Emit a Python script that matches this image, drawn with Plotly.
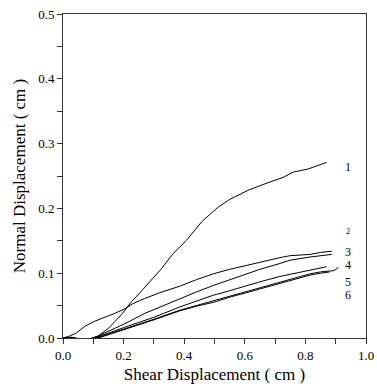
import plotly.graph_objects as go

# Curve data (shear displacement cm, normal displacement cm)
x1 = [0.0, 0.03, 0.06, 0.09, 0.116, 0.15, 0.193, 0.226, 0.26, 0.292, 0.325, 0.363, 0.408, 0.457, 0.512, 0.551, 0.611, 0.667, 0.727, 0.76, 0.81, 0.87]
y1 = [0.0, 0.001, -0.002, -0.001, 0.003, 0.015, 0.036, 0.056, 0.073, 0.089, 0.107, 0.130, 0.151, 0.179, 0.202, 0.214, 0.228, 0.238, 0.248, 0.256, 0.261, 0.271]

x2 = [0.0, 0.022, 0.045, 0.072, 0.105, 0.14, 0.171, 0.204, 0.23, 0.27, 0.32, 0.386, 0.44, 0.496, 0.55, 0.606, 0.65, 0.716, 0.749, 0.815, 0.85, 0.887]
y2 = [0.0, 0.003, 0.008, 0.018, 0.026, 0.032, 0.038, 0.045, 0.053, 0.061, 0.070, 0.080, 0.090, 0.099, 0.106, 0.112, 0.117, 0.124, 0.127, 0.129, 0.132, 0.134]

x3 = [0.0, 0.03, 0.06, 0.09, 0.11, 0.15, 0.204, 0.27, 0.33, 0.386, 0.44, 0.496, 0.55, 0.606, 0.65, 0.716, 0.749, 0.815, 0.85, 0.887]
y3 = [0.0, 0.001, -0.002, -0.001, 0.002, 0.010, 0.022, 0.038, 0.050, 0.061, 0.071, 0.081, 0.090, 0.099, 0.106, 0.115, 0.120, 0.125, 0.127, 0.129]

x4 = [0.0, 0.03, 0.06, 0.09, 0.11, 0.15, 0.2, 0.25, 0.3, 0.386, 0.44, 0.496, 0.55, 0.606, 0.66, 0.716, 0.77, 0.815, 0.87]
y4 = [0.0, 0.0, -0.003, -0.002, 0.001, 0.008, 0.016, 0.024, 0.032, 0.048, 0.057, 0.066, 0.073, 0.081, 0.088, 0.095, 0.100, 0.104, 0.110]

x5 = [0.0, 0.03, 0.06, 0.09, 0.11, 0.15, 0.2, 0.25, 0.3, 0.386, 0.44, 0.496, 0.55, 0.606, 0.66, 0.716, 0.77, 0.815, 0.85, 0.88, 0.895, 0.909]
y5 = [0.0, 0.001, -0.003, -0.002, 0.0, 0.006, 0.014, 0.021, 0.029, 0.043, 0.050, 0.057, 0.064, 0.072, 0.079, 0.086, 0.093, 0.099, 0.102, 0.103, 0.104, 0.109]

x6 = [0.0, 0.03, 0.06, 0.09, 0.11, 0.15, 0.2, 0.25, 0.3, 0.386, 0.44, 0.496, 0.55, 0.606, 0.66, 0.716, 0.77, 0.815, 0.85, 0.88]
y6 = [0.0, 0.0, -0.004, -0.003, -0.001, 0.005, 0.013, 0.020, 0.028, 0.042, 0.049, 0.055, 0.063, 0.070, 0.077, 0.085, 0.091, 0.097, 0.100, 0.102]

series_x = [x1, x2, x3, x4, x5, x6]
series_y = [y1, y2, y3, y4, y5, y6]

label_text = ["1", "2", "3", "4", "5", "6"]
label_x = [0.94, 0.94, 0.94, 0.94, 0.94, 0.94]
label_y = [0.264, 0.165, 0.133, 0.113, 0.086, 0.067]
label_size = [12, 8, 12, 12, 12, 12]

x_ticks = [0.0, 0.2, 0.4, 0.6, 0.8, 1.0]
y_ticks = [0.0, 0.1, 0.2, 0.3, 0.4, 0.5]

SERIF = "Liberation Serif"

fig = go.Figure()
for xs, ys in zip(series_x, series_y):
    fig.add_trace(go.Scatter(x=xs, y=ys, mode="lines",
                             line=dict(color="black", width=1),
                             showlegend=False, hoverinfo="skip"))

for t, lx, ly, s in zip(label_text, label_x, label_y, label_size):
    fig.add_annotation(x=lx, y=ly, text=t, showarrow=False, xref="x", yref="y",
                       font=dict(family=SERIF, size=s, color="black"))

axis_common = dict(
    showgrid=False, zeroline=False, showline=True, linecolor="#333",
    linewidth=1, mirror=True, ticks="outside", ticklen=5, tickcolor="#333",
    tickfont=dict(family=SERIF, size=13, color="black"),
    ticklabeloverflow="allow",
)

fig.update_xaxes(range=[0, 1.0], tickvals=x_ticks,
                 ticktext=[f"{v:.1f}" for v in x_ticks],
                 minor=dict(dtick=0.1, ticks="outside", ticklen=5, tickcolor="#333"),
                 title=dict(text="Shear Displacement ( cm )",
                            font=dict(family=SERIF, size=17, color="black"),
                            standoff=6),
                 **axis_common)
fig.update_yaxes(range=[0, 0.5], tickvals=y_ticks,
                 ticktext=[f"{v:.1f}" for v in y_ticks],
                 minor=dict(dtick=0.05, ticks="outside", ticklen=5, tickcolor="#333"),
                 title=dict(text="Normal Displacement ( cm )",
                            font=dict(family=SERIF, size=17, color="black"),
                            standoff=8),
                 **axis_common)

fig.update_layout(width=377, height=390,
                  margin=dict(l=63, r=11, t=14, b=52, autoexpand=False),
                  font=dict(family=SERIF, size=12, color="black"),
                  plot_bgcolor="white", paper_bgcolor="white")

fig.write_html("out.html",
               config={"displayModeBar": False, "staticPlot": True},
               post_script="document.body.style.margin='0';document.body.style.overflow='hidden';")
